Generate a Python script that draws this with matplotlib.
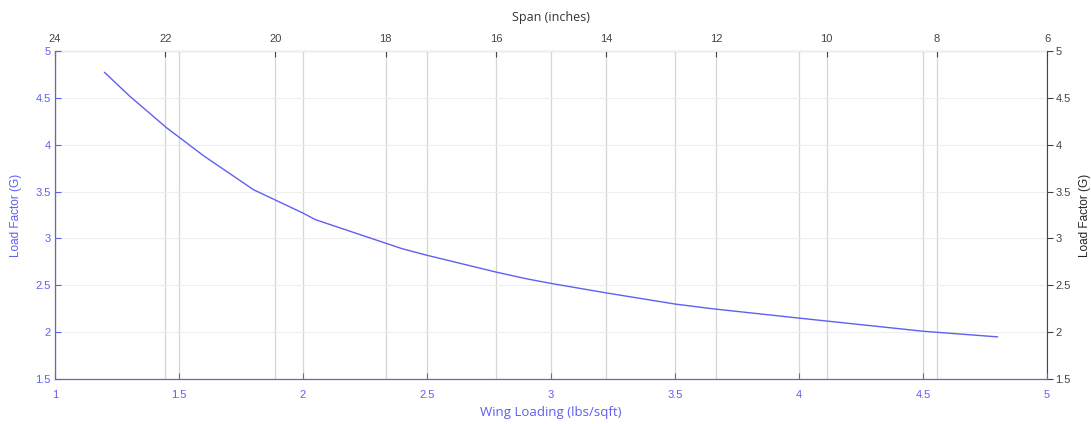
import matplotlib
matplotlib.use("Agg")
import matplotlib.pyplot as plt

# load factor vs wing loading
wing_loading = [1.2, 1.3, 1.45, 1.5, 1.6, 1.8, 2.0, 2.05, 2.4, 2.5, 2.78, 2.9, 3.0,
                3.22, 3.5, 3.65, 4.0, 4.5, 4.8]
load_factor = [4.77, 4.52, 4.18, 4.08, 3.88, 3.52, 3.27, 3.20, 2.89, 2.82, 2.64, 2.57,
               2.52, 2.42, 2.30, 2.25, 2.15, 2.01, 1.95]

wl_ticks = [1, 1.5, 2, 2.5, 3, 3.5, 4, 4.5, 5]
wl_labels = ["1", "1.5", "2", "2.5", "3", "3.5", "4", "4.5", "5"]
span_ticks = [24, 22, 20, 18, 16, 14, 12, 10, 8, 6]
lf_ticks = [1.5, 2, 2.5, 3, 3.5, 4, 4.5, 5]
lf_labels = ["1.5", "2", "2.5", "3", "3.5", "4", "4.5", "5"]

BLUE = "#5f5ff2"
GRAY = "#444444"
TICK_FONT = "Liberation Sans"

fig = plt.figure(figsize=(10.91, 4.24), dpi=100)
pos = [0.0504, 0.106, 0.9093, 0.774]

# top axis (span) drawn first, underneath
ax_top = fig.add_axes(pos)
ax_top.set_xlim(24, 6)
ax_top.set_ylim(1.5, 5)
ax_top.xaxis.set_ticks_position("top")
ax_top.xaxis.set_label_position("top")
ax_top.set_xticks(span_ticks)
ax_top.set_xticklabels([str(s) for s in span_ticks], fontsize=8,
                       family=TICK_FONT, color=GRAY)
ax_top.yaxis.set_ticks_position("right")
ax_top.yaxis.set_label_position("right")
ax_top.set_yticks(lf_ticks)
ax_top.set_yticklabels(lf_labels, fontsize=8, family=TICK_FONT, color=GRAY)
ax_top.tick_params(axis="x", direction="in", length=4, color=GRAY, pad=5)
ax_top.tick_params(axis="y", direction="out", length=4, color=GRAY, pad=2)
ax_top.grid(axis="x", color="#d6d6d6", linewidth=0.9)
ax_top.set_xlabel("Span (inches)", fontsize=9, family="Open Sans", color="#333333",
                  labelpad=9)
ax_top.set_ylabel("Load Factor (G)", fontsize=8.5, family=TICK_FONT, color="#222222",
                  labelpad=6)
for side in ["top", "right", "left", "bottom"]:
    ax_top.spines[side].set_color(GRAY)
    ax_top.spines[side].set_linewidth(0.8)

# main axis (wing loading)
ax = fig.add_axes(pos)
ax.patch.set_visible(False)
ax.plot(wing_loading, load_factor, color=BLUE, linewidth=1.0)
ax.set_xlim(1, 5)
ax.set_ylim(1.5, 5)
ax.set_xticks(wl_ticks)
ax.set_xticklabels(wl_labels, fontsize=8, family=TICK_FONT, color=BLUE)
ax.set_yticks(lf_ticks)
ax.set_yticklabels(lf_labels, fontsize=8, family=TICK_FONT, color=BLUE)
ax.tick_params(axis="x", direction="in", length=4, color=BLUE, pad=8)
ax.tick_params(axis="y", direction="in", length=4, color=BLUE, pad=3)
ax.grid(axis="x", color="#d6d6d6", linewidth=0.9)
ax.grid(axis="y", color="#eeeeee", linewidth=0.8)
ax.set_axisbelow(True)
ax.set_xlabel("Wing Loading (lbs/sqft)", fontsize=9.5, family="Open Sans", color=BLUE,
              labelpad=4)
ax.set_ylabel("Load Factor (G)", fontsize=8.5, family=TICK_FONT, color=BLUE,
              labelpad=10)
ax.spines["top"].set_visible(False)
ax.spines["right"].set_visible(False)
ax.spines["left"].set_color(BLUE)
ax.spines["bottom"].set_color(BLUE)

fig.savefig("out.png", dpi=100)
